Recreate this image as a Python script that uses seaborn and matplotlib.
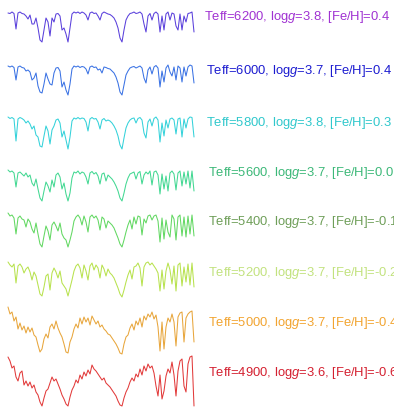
import numpy as np
import pandas as pd
import matplotlib
matplotlib.use("Agg")
import matplotlib.pyplot as plt
import seaborn as sns

# ---------------- data ----------------
wavelength = np.arange(3800, 4740, 10)  # Angstrom, 94 samples

teff = [6200, 6000, 5800, 5600, 5400, 5200, 5000, 4900]
logg = [3.8, 3.7, 3.8, 3.7, 3.7, 3.7, 3.7, 3.6]
feh = ["0.4", "0.4", "0.3", "0.0", "-0.1", "-0.2", "-0.4", "-0.6"]

flux_6200 = [0.98, 0.97, 1.00, 0.97, 0.66, 0.98, 1.00, 0.97, 0.96, 0.92,
             0.86, 0.94, 0.76, 0.76, 0.88, 0.68, 0.44, 0.40, 0.64, 0.88,
             0.80, 0.52, 0.88, 0.80, 0.96, 0.97, 0.92, 0.64, 0.68, 0.56,
             0.40, 0.68, 0.96, 1.00, 0.98, 1.00, 0.97, 1.00, 0.98, 0.94,
             0.84, 0.98, 1.00, 0.97, 0.98, 0.92, 0.84, 0.97, 1.00, 0.98,
             0.96, 0.95, 0.92, 0.88, 0.80, 0.68, 0.48, 0.40, 0.64, 0.84,
             0.92, 0.97, 0.98, 1.00, 0.97, 0.98, 1.00, 0.96, 0.76, 0.60,
             0.92, 0.97, 0.84, 0.97, 1.00, 0.96, 0.60, 0.92, 0.64, 0.96,
             1.00, 0.84, 0.98, 0.96, 0.72, 0.64, 0.96, 0.64, 0.92, 0.80,
             0.97, 0.98, 1.00, 0.60]
flux_6000 = [0.98, 0.96, 0.98, 0.95, 0.70, 0.96, 0.98, 0.95, 0.94, 0.88,
             0.90, 0.86, 0.70, 0.74, 0.84, 0.58, 0.46, 0.44, 0.62, 0.84,
             0.72, 0.62, 0.60, 0.84, 0.94, 0.95, 0.88, 0.56, 0.66, 0.50,
             0.40, 0.62, 0.92, 0.98, 0.96, 0.98, 0.95, 0.97, 0.96, 0.92,
             0.82, 0.96, 0.98, 0.95, 0.96, 0.90, 0.92, 0.84, 0.96, 0.95,
             0.93, 0.92, 0.88, 0.84, 0.76, 0.64, 0.46, 0.40, 0.60, 0.80,
             0.88, 0.94, 0.96, 0.97, 0.94, 0.96, 0.98, 0.94, 0.74, 0.64,
             0.90, 0.96, 0.82, 0.96, 0.99, 0.94, 0.56, 0.88, 0.66, 0.94,
             1.00, 0.86, 0.78, 0.96, 0.70, 0.98, 0.94, 0.66, 0.96, 0.78,
             0.96, 1.00, 0.98, 0.64]
flux_5800 = [0.98, 0.95, 0.97, 0.94, 0.50, 0.94, 0.97, 0.95, 0.92, 0.86,
             0.90, 0.84, 0.74, 0.80, 0.62, 0.58, 0.40, 0.38, 0.60, 0.80,
             0.70, 0.44, 0.72, 0.80, 0.92, 0.94, 0.86, 0.58, 0.70, 0.52,
             0.34, 0.58, 0.90, 0.96, 0.94, 0.97, 0.94, 0.96, 0.95, 0.88,
             0.70, 0.94, 0.97, 0.94, 0.95, 0.88, 0.74, 0.92, 0.95, 0.90,
             0.92, 0.90, 0.86, 0.80, 0.72, 0.60, 0.42, 0.34, 0.56, 0.76,
             0.86, 0.92, 0.95, 0.96, 0.86, 0.95, 0.97, 0.92, 0.66, 0.56,
             0.88, 0.94, 0.80, 0.95, 0.98, 0.92, 0.48, 0.86, 0.60, 0.92,
             0.76, 0.94, 0.96, 0.92, 0.64, 0.94, 0.96, 0.58, 0.94, 0.76,
             0.94, 0.98, 0.97, 0.58]
flux_5600 = [0.98, 0.94, 0.96, 0.92, 0.64, 0.92, 0.94, 0.90, 0.86, 0.92,
             0.84, 0.88, 0.72, 0.66, 0.80, 0.60, 0.42, 0.36, 0.56, 0.74,
             0.66, 0.54, 0.78, 0.64, 0.88, 0.92, 0.84, 0.60, 0.72, 0.50,
             0.36, 0.52, 0.82, 0.94, 0.92, 0.96, 0.90, 0.94, 0.92, 0.84,
             0.70, 0.92, 0.95, 0.90, 0.93, 0.86, 0.70, 0.90, 0.92, 0.76,
             0.88, 0.84, 0.80, 0.74, 0.66, 0.56, 0.42, 0.36, 0.52, 0.70,
             0.82, 0.90, 0.92, 0.94, 0.80, 0.92, 0.95, 0.70, 0.88, 0.94,
             0.90, 0.96, 0.68, 0.94, 0.96, 0.88, 0.50, 0.90, 0.60, 0.86,
             0.56, 0.92, 0.96, 0.90, 0.58, 0.92, 0.96, 0.66, 0.94, 0.70,
             0.96, 0.62, 0.96, 0.56]
flux_5400 = [0.98, 0.92, 0.94, 0.88, 0.56, 0.88, 0.92, 0.86, 0.84, 0.70,
             0.86, 0.80, 0.66, 0.58, 0.78, 0.56, 0.36, 0.30, 0.52, 0.72,
             0.62, 0.44, 0.74, 0.80, 0.72, 0.62, 0.78, 0.56, 0.48, 0.44,
             0.30, 0.44, 0.60, 0.82, 0.90, 0.94, 0.88, 0.74, 0.92, 0.80,
             0.60, 0.90, 0.94, 0.88, 0.92, 0.84, 0.64, 0.90, 0.86, 0.68,
             0.82, 0.78, 0.74, 0.68, 0.58, 0.48, 0.36, 0.30, 0.44, 0.60,
             0.74, 0.84, 0.66, 0.90, 0.76, 0.92, 0.90, 0.54, 0.86, 0.78,
             0.92, 0.94, 0.84, 0.92, 0.94, 0.82, 0.40, 0.88, 0.46, 0.84,
             0.60, 0.50, 0.94, 0.86, 0.44, 0.90, 0.94, 0.52, 0.90, 0.50,
             0.92, 0.56, 0.94, 0.52]
flux_5200 = [0.98, 0.92, 0.88, 0.94, 0.56, 0.90, 0.94, 0.88, 0.76, 0.84,
             0.88, 0.78, 0.62, 0.78, 0.70, 0.52, 0.34, 0.30, 0.48, 0.70,
             0.74, 0.42, 0.76, 0.86, 0.78, 0.66, 0.80, 0.56, 0.50, 0.44,
             0.30, 0.46, 0.62, 0.80, 0.90, 0.94, 0.86, 0.66, 0.92, 0.80,
             0.62, 0.90, 0.96, 0.82, 0.92, 0.86, 0.66, 0.92, 0.84, 0.70,
             0.84, 0.76, 0.72, 0.66, 0.56, 0.46, 0.34, 0.28, 0.42, 0.58,
             0.72, 0.82, 0.64, 0.88, 0.90, 0.96, 0.86, 0.50, 0.88, 0.96,
             0.98, 0.92, 0.96, 0.90, 0.84, 0.76, 0.40, 0.82, 0.44, 0.80,
             0.96, 0.82, 0.54, 0.90, 0.40, 0.92, 0.96, 0.50, 0.88, 0.58,
             0.94, 0.52, 0.96, 0.48]
flux_5000 = [1.00, 0.86, 0.90, 0.72, 0.80, 0.56, 0.68, 0.54, 0.62, 0.48,
             0.60, 0.50, 0.58, 0.44, 0.40, 0.24, 0.10, 0.16, 0.36, 0.46,
             0.38, 0.60, 0.66, 0.56, 0.72, 0.58, 0.48, 0.40, 0.26, 0.10,
             0.08, 0.30, 0.40, 0.56, 0.66, 0.58, 0.78, 0.66, 0.80, 0.70,
             0.78, 0.64, 0.82, 0.74, 0.66, 0.72, 0.60, 0.64, 0.56, 0.52,
             0.46, 0.44, 0.38, 0.32, 0.26, 0.18, 0.08, 0.06, 0.26, 0.40,
             0.44, 0.58, 0.66, 0.54, 0.72, 0.64, 0.78, 0.60, 0.82, 0.74,
             0.86, 0.80, 0.90, 0.76, 0.84, 0.60, 0.12, 0.70, 0.16, 0.60,
             0.78, 0.70, 0.86, 0.70, 0.22, 0.80, 0.88, 0.90, 0.30, 0.78,
             0.86, 0.90, 0.92, 0.30]
flux_4900 = [0.98, 0.90, 0.76, 0.80, 0.58, 0.50, 0.66, 0.70, 0.42, 0.50,
             0.40, 0.48, 0.36, 0.42, 0.28, 0.22, 0.08, 0.00, 0.16, 0.30,
             0.34, 0.46, 0.58, 0.50, 0.54, 0.44, 0.34, 0.22, 0.14, 0.04,
             0.00, 0.18, 0.32, 0.40, 0.52, 0.46, 0.62, 0.54, 0.68, 0.60,
             0.72, 0.64, 0.82, 0.74, 0.70, 0.64, 0.58, 0.52, 0.56, 0.46,
             0.42, 0.38, 0.32, 0.26, 0.20, 0.10, 0.02, 0.00, 0.16, 0.28,
             0.36, 0.48, 0.56, 0.50, 0.64, 0.58, 0.74, 0.62, 0.80, 0.70,
             0.84, 0.76, 0.80, 0.66, 0.40, 0.20, 0.62, 0.14, 0.30, 0.60,
             0.74, 0.66, 0.88, 0.62, 0.20, 0.70, 0.90, 0.94, 0.40, 0.28,
             0.84, 0.98, 1.00, 0.00]

spectra = [flux_6200, flux_6000, flux_5800, flux_5600,
           flux_5400, flux_5200, flux_5000, flux_4900]

# ---------------- style / layout ----------------
line_colors = ["#5a40dc", "#3a72e4", "#34d2da", "#42d892",
               "#62d862", "#b8e24e", "#e8a63c", "#e23a3a"]
text_colors = ["#a032d2", "#1c1cd0", "#30c8cc", "#3cb878",
               "#6e9e58", "#c2e27e", "#f2a430", "#d42030"]
row_offset = [0.0, 1.06, 2.08, 3.14, 4.0, 4.98, 5.9, 6.88]
label_x_px = [204, 206, 206, 208, 208, 208, 208, 208]
label_y_px = [17, 71, 123, 173, 222, 273, 323, 373]

labels = [f"Teff={t}, log$g$={g}, [Fe/H]={f}" for t, g, f in zip(teff, logg, feh)]

rows = []
for i, fl in enumerate(spectra):
    for w, v in zip(wavelength, fl):
        rows.append({"wavelength": w, "y": v - row_offset[i], "star": labels[i]})
df = pd.DataFrame(rows)

sns.set_theme(style="white")
plt.rcParams["font.family"] = ["Liberation Sans", "DejaVu Sans"]
plt.rcParams["mathtext.fontset"] = "custom"
plt.rcParams["mathtext.rm"] = "Liberation Sans"
plt.rcParams["mathtext.it"] = "Liberation Sans:italic"

W, H = 394, 410
fig = plt.figure(figsize=(W / 100, H / 100), dpi=100)
ax = fig.add_axes([0, 0, 1, 1])

sns.lineplot(data=df, x="wavelength", y="y", hue="star", hue_order=labels,
             palette=line_colors, estimator=None, linewidth=0.75,
             legend=False, ax=ax)

px_per_A = 0.2
x0 = wavelength[0] - 8 / px_per_A
ax.set_xlim(x0, x0 + W / px_per_A)
ytop = 1.0 + 13 / 50
ax.set_ylim(ytop - H / 50, ytop)
ax.axis("off")

for i, lab in enumerate(labels):
    fig.text(label_x_px[i] / W, 1 - label_y_px[i] / H, lab,
             color=text_colors[i], fontsize=9.4, ha="left", va="center")

fig.savefig("out.png", dpi=100)
